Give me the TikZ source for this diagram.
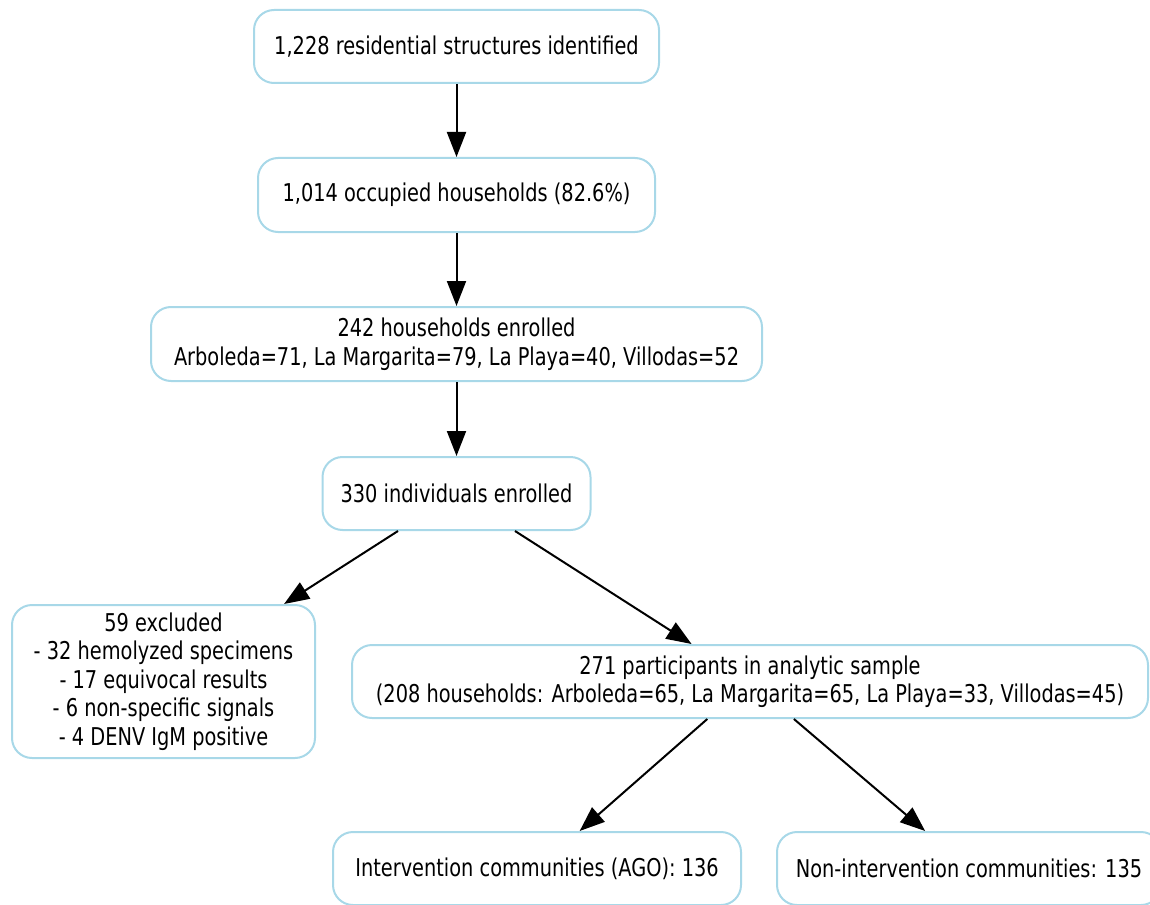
\documentclass[tikz,border=0pt]{standalone}
\usepackage{fontspec}
\setmainfont{DejaVu Sans}[FakeStretch=0.79]
\usetikzlibrary{arrows.meta}
\definecolor{boxblue}{HTML}{A8D8E8}
\tikzset{
  flowbox/.style={draw=boxblue, line width=2pt, rounded corners=20pt, fill=white,
    align=center, inner sep=0pt, font=\fontsize{24.5}{28.5}\selectfont, text=black},
  flowarrow/.style={draw=black, line width=2pt, -{Triangle[length=25pt,width=19pt]}}
}
\begin{document}
\begin{tikzpicture}[x=1pt,y=-1pt]
\useasboundingbox (0,0) rectangle (1150,904);
\node[flowbox, minimum width=405pt, minimum height=73pt] (b1) at (456.5,46.5) {1,228 residential structures identified};
\node[flowbox, minimum width=397pt, minimum height=74pt] (b2) at (456.5,195) {1,014 occupied households (82.6\%)};
\node[flowbox, minimum width=611pt, minimum height=74pt] (b3) at (456.5,344) {242 households enrolled\\Arboleda=71, La Margarita=79, La Playa=40, Villodas=52};
\node[flowbox, minimum width=268pt, minimum height=73pt] (b4) at (456.5,493.5) {330 individuals enrolled};
\node[flowbox, minimum width=303pt, minimum height=153pt] (ex) at (163.5,681.5) {59 excluded\\- 32 hemolyzed specimens\\- 17 equivocal results\\- 6 non-specific signals\\- 4 DENV IgM positive};
\node[flowbox, minimum width=796pt, minimum height=73pt] (an) at (750,681.5) {271 participants in analytic sample\\(208 households: Arboleda=65, La Margarita=65, La Playa=33, Villodas=45)};
\node[flowbox, minimum width=408pt, minimum height=73pt] (bl) at (537,868.5) {Intervention communities (AGO): 136};
\node[flowbox, minimum width=384pt, minimum height=73pt] (br) at (969,868.5) {Non-intervention communities: 135};
\draw[flowarrow] (b1) -- (b2);
\draw[flowarrow] (b2) -- (b3);
\draw[flowarrow] (b3) -- (b4);
\draw[flowarrow] (b4) -- (ex);
\draw[flowarrow] (b4) -- (an);
\draw[flowarrow] (an) -- (bl);
\draw[flowarrow] (an) -- (br);
\end{tikzpicture}
\end{document}
